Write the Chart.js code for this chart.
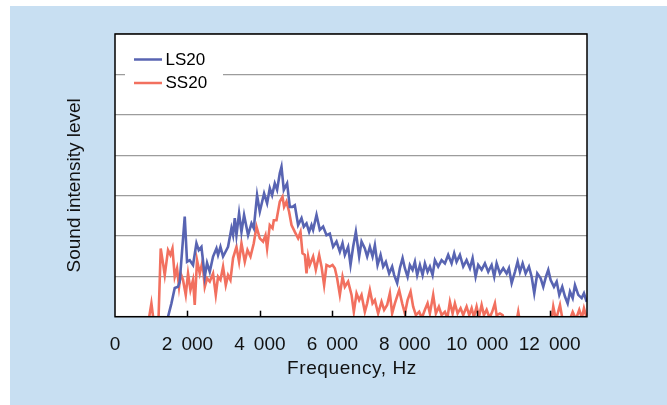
<!DOCTYPE html>
<html>
<head>
<meta charset="utf-8">
<script src="https://cdn.jsdelivr.net/npm/chart.js@4.4.0/dist/chart.umd.min.js"></script>
<style>
  html, body { margin: 0; padding: 0; background: #fff; }
  #panel { position: absolute; left: 10px; top: 6px; width: 657px; height: 399px; background: #c8dff2; }
  #chart { position: absolute; left: 0; top: 0; }
</style>
</head>
<body>
<div id="panel"></div>
<canvas id="chart" width="667" height="405"></canvas>
<script>
// x ticks and their printed labels
const xTicks = [0, 2000, 4000, 6000, 8000, 10000, 12000];
const xTickLabels = ['0', '2 \u2009000', '4 \u2009000', '6 \u2009000', '8 \u2009000', '10 \u2009000', '12 \u2009000'];
const xTitle = 'Frequency, Hz';
const yTitle = 'Sound intensity level';

// LS20 (blue) - frequency (Hz) and level (grid units)
const lsFreq = [1400, 1464, 1558, 1649, 1740, 1787, 1925, 1989, 2063, 2154,
  2248, 2312, 2386, 2478, 2541, 2616, 2707, 2801, 2845, 2911,
  2983, 3121, 3215, 3259, 3306, 3353, 3425, 3491, 3563, 3674,
  3768, 3831, 3922, 3997, 4116, 4199, 4273, 4337, 4411, 4475,
  4549, 4596, 4660, 4751, 4826, 4900, 4964, 5055, 5149, 5212,
  5287, 5359, 5425, 5469, 5563, 5654, 5745, 5839, 5930,
  6021, 6115, 6207, 6281, 6345, 6436, 6502, 6574, 6649, 6740,
  6806, 6897, 6961, 7036, 7110, 7174, 7248, 7331, 7403, 7477,
  7568, 7651, 7707, 7790, 7864, 7939, 8002, 8077, 8140, 8215,
  8279, 8342, 8417, 8491, 8555, 8629, 8693, 8767, 8831, 8922,
  9016, 9107, 9198, 9292, 9364, 9430, 9521, 9613, 9706, 9798,
  9872, 9955, 10027, 10121, 10212, 10303, 10397, 10469, 10535, 10626,
  10718, 10811, 10875, 10950, 11041, 11115, 11179, 11253, 11336, 11427,
  11502, 11574, 11657, 11751, 11823, 11897, 11961, 12027, 12118, 12193,
  12265, 12347, 12422, 12496, 12560, 12635, 12698, 12789, 12883, 12946, 13021];
const lsLevel = [-0.3, 0, 0.33, 0.71, 0.74, 0.87, 2.48, 1.36, 1.40, 1.28,
  1.82, 1.65, 1.73, 0.99, 1.33, 1.11, 1.49, 1.69, 1.53, 1.73,
  1.49, 1.73, 2.19, 2.02, 2.44, 2.02, 2.56, 2.10, 2.52, 2.02,
  2.31, 2.19, 3.01, 2.60, 3.05, 2.81, 3.18, 3.01, 3.30, 3.14,
  3.55, 3.71, 3.14, 3.30, 2.72, 2.72, 2.76, 2.27, 2.44, 2.23,
  2.31, 2.10, 2.27, 2.15, 2.52, 2.15, 2.23, 2.02, 2.06,
  1.73, 1.86, 1.61, 1.82, 1.53, 1.73, 1.28, 1.73, 2.10, 1.49,
  1.86, 1.69, 1.49, 1.73, 1.49, 1.77, 1.28, 1.53, 1.24, 1.36,
  1.07, 1.24, 1.03, 0.83, 1.20, 1.45, 1.20, 0.99, 1.28, 1.16,
  1.36, 1.03, 1.28, 1.03, 1.32, 1.11, 1.24, 1.03, 1.40, 1.24,
  1.40, 1.32, 1.53, 1.32, 1.57, 1.36, 1.53, 1.24, 1.40, 1.20,
  1.45, 0.99, 1.28, 1.16, 1.32, 1.11, 1.28, 0.99, 1.32, 1.07,
  1.20, 1.07, 1.20, 0.83, 1.11, 1.36, 1.11, 1.32, 1.07, 1.24,
  0.99, 0.58, 1.07, 0.95, 0.74, 0.99, 1.16, 0.91, 0.74, 0.87,
  0.54, 0.74, 0.50, 0.33, 0.62, 0.46, 0.78, 0.54, 0.46, 0.58, 0.37];

// SS20 (red)
const ssFreq = [945, 1005, 1097, 1193, 1262, 1326, 1373, 1464, 1530, 1586,
  1649, 1713, 1768, 1815, 1878, 1953, 2016, 2083, 2154, 2201,
  2265, 2340, 2414, 2478, 2541, 2616, 2707, 2782, 2845, 2911,
  2983, 3058, 3121, 3187, 3259, 3353, 3425, 3491, 3583, 3657,
  3740, 3831, 3906, 3997, 4088, 4154, 4199, 4273, 4348, 4384,
  4458, 4549, 4624, 4668, 4734, 4806, 4873, 4964, 5055, 5121,
  5176, 5240, 5287, 5331, 5378, 5469, 5544, 5635, 5701, 5773,
  5839, 5930, 6005, 6069, 6132, 6207, 6281, 6345, 6436, 6530,
  6593, 6668, 6740, 6806, 6897, 6961, 7036, 7110, 7174, 7264,
  7358, 7430, 7513, 7588, 7651, 7726, 7845, 7928, 8002, 8077,
  8160, 8231, 8306, 8397, 8472, 8555, 8629, 8693, 8784, 8858,
  8941, 9016, 9107, 9176, 9245, 9320, 9383, 9458, 9540, 9613,
  9706, 9778, 9845, 9908, 9982, 10046, 10121, 10184, 10259, 10340,
  10413, 10488, 10535, 10626, 10701, 10764, 10902, 11068, 11132, 11193,
  11455, 11869, 12035, 12099, 12173, 12284, 12366, 12504, 12635, 12725,
  12817, 12890, 12946, 13021];
const ssLevel = [0, 0.33, -0.33, -0.3, 1.69, 1.32, 1.03, 1.65, 1.53, 1.69,
  0.99, 1.20, 0.74, 1.07, 0.91, 0.54, 1.07, 0.66, 0.91, 0.29,
  1.40, 1.07, 1.36, 0.74, 0.95, 0.87, 1.07, 0.54, 0.99, 0.91,
  1.24, 0.78, 1.03, 0.91, 1.45, 1.73, 1.36, 1.82, 1.36, 1.65,
  1.49, 1.82, 2.23, 1.94, 1.86, 2.02, 1.69, 2.27, 2.19, 2.39,
  2.39, 2.85, 2.97, 2.72, 2.85, 2.60, 2.27, 2.10, 1.94, 2.10,
  1.57, 1.53, 1.07, 1.49, 1.28, 1.49, 1.16, 1.53, 1.24, 0.78,
  1.28, 1.24, 1.28, 1.20, 0.95, 0.54, 0.99, 0.74, 0.87, 0.54,
  0.12, 0.58, 0.41, 0.54, 0.12, 0.33, 0.66, 0.33, 0.41, 0.08,
  0.37, 0.17, 0.29, 0.58, 0.08, 0.33, 0.66, 0.33, 0.08, 0.41,
  0.62, 0.25, 0.04, 0.12, -0.03, 0.17, 0.33, 0.08, 0.54, 0.08,
  0.25, 0.04, 0.12, -0.03, 0.37, 0.08, 0.33, 0.08, 0.21, 0.04,
  0.25, 0.04, 0.21, -0.01, 0.25, -0.01, 0.29, 0.04, 0.17, -0.03,
  0.12, 0.33, 0.04, 0.08, 0.04, -0.2, -0.33, -0.2, 0.12, -0.2,
  -0.33, -0.33, -0.2, 0.25, -0.08, 0.29, -0.13, -0.2, 0.12, -0.06,
  0.17, -0.03, 0.21, -0.03];

const blue = '#5864b2';
const red = '#f2705f';
const fontFamily = '"Liberation Sans", Arial, Helvetica, sans-serif';

function pairUp(xs, ys) {
  const n = Math.min(xs.length, ys.length);
  const out = [];
  for (let i = 0; i < n; i++) out.push({ x: xs[i], y: ys[i] });
  return out;
}

// white plot area under the grid
const plotBg = {
  id: 'plotBg',
  beforeDraw(chart) {
    const ctx = chart.ctx, a = chart.chartArea;
    ctx.save();
    ctx.fillStyle = '#fff';
    ctx.fillRect(a.left, a.top, a.right - a.left, a.bottom - a.top);
    ctx.restore();
  }
};

// legend box inside the plot, drawn over the grid but under the lines
const insideLegend = {
  id: 'insideLegend',
  beforeDatasetsDraw(chart) {
    const ctx = chart.ctx, a = chart.chartArea;
    ctx.save();
    ctx.fillStyle = '#fff';
    ctx.fillRect(a.left + 10, a.top + 12, 98, 58);
    ctx.font = '17px ' + fontFamily;
    ctx.textBaseline = 'middle';
    chart.data.datasets.forEach(function(ds, i) {
      const y = a.top + 25.5 + i * 23.5;
      ctx.strokeStyle = ds.borderColor;
      ctx.lineWidth = 2.5;
      ctx.beginPath();
      ctx.moveTo(a.left + 19, y);
      ctx.lineTo(a.left + 47, y);
      ctx.stroke();
      ctx.fillStyle = '#000';
      ctx.fillText(ds.label, a.left + 50.5, y + 0.5);
    });
    ctx.restore();
  }
};

// black frame, inward tick marks and the two axis titles
const frame = {
  id: 'frame',
  afterDraw(chart) {
    const ctx = chart.ctx, a = chart.chartArea;
    const xs = chart.scales.x;
    ctx.save();
    ctx.strokeStyle = '#000';
    ctx.lineWidth = 1.5;
    xTicks.forEach(function(v) {
      if (v === 0) return;
      const px = Math.round(xs.getPixelForValue(v)) + 0.5;
      ctx.beginPath();
      ctx.moveTo(px, a.bottom - 6);
      ctx.lineTo(px, a.bottom);
      ctx.stroke();
    });
    ctx.strokeRect(a.left, a.top, a.right - a.left, a.bottom - a.top);

    ctx.fillStyle = '#111';
    ctx.font = '19px ' + fontFamily;
    ctx.textAlign = 'center';
    ctx.textBaseline = 'middle';
    ctx.letterSpacing = '0.6px';
    ctx.fillText(xTitle, (a.left + a.right) / 2 + 1, 368.5);
    ctx.letterSpacing = '0px';
    ctx.translate(75, (a.top + a.bottom) / 2 + 10);
    ctx.rotate(-Math.PI / 2);
    ctx.fillText(yTitle, 0, 0);
    ctx.restore();
  }
};

new Chart(document.getElementById('chart'), {
  type: 'line',
  data: {
    datasets: [
      { label: 'LS20', data: pairUp(lsFreq, lsLevel), borderColor: blue, borderWidth: 2.6, pointRadius: 0, tension: 0, clip: 0 },
      { label: 'SS20', data: pairUp(ssFreq, ssLevel), borderColor: red, borderWidth: 2.6, pointRadius: 0, tension: 0, clip: 0 }
    ]
  },
  options: {
    responsive: false,
    animation: false,
    devicePixelRatio: 1,
    layout: { padding: { left: 0, right: 80, top: 34, bottom: 0 } },
    plugins: { legend: { display: false }, tooltip: { enabled: false } },
    scales: {
      x: {
        type: 'linear',
        min: 0,
        max: 13030,
        afterFit: function(s) { s.height = 88.3; },
        afterBuildTicks: function(s) { s.ticks = xTicks.map(function(v) { return { value: v }; }); },
        grid: { display: false },
        border: { display: false },
        ticks: {
          autoSkip: false,
          maxRotation: 0,
          padding: 9,
          color: '#111',
          font: { family: fontFamily, size: 19 },
          callback: function(v) { const i = xTicks.indexOf(v); return i >= 0 ? xTickLabels[i] : ''; }
        }
      },
      y: {
        min: 0,
        max: 7,
        afterFit: function(s) { s.width = 115; },
        ticks: { display: false, stepSize: 1 },
        grid: { color: '#9c9c9c', lineWidth: 1.2, drawTicks: false },
        border: { display: false }
      }
    }
  },
  plugins: [plotBg, insideLegend, frame]
});
</script>
</body>
</html>
